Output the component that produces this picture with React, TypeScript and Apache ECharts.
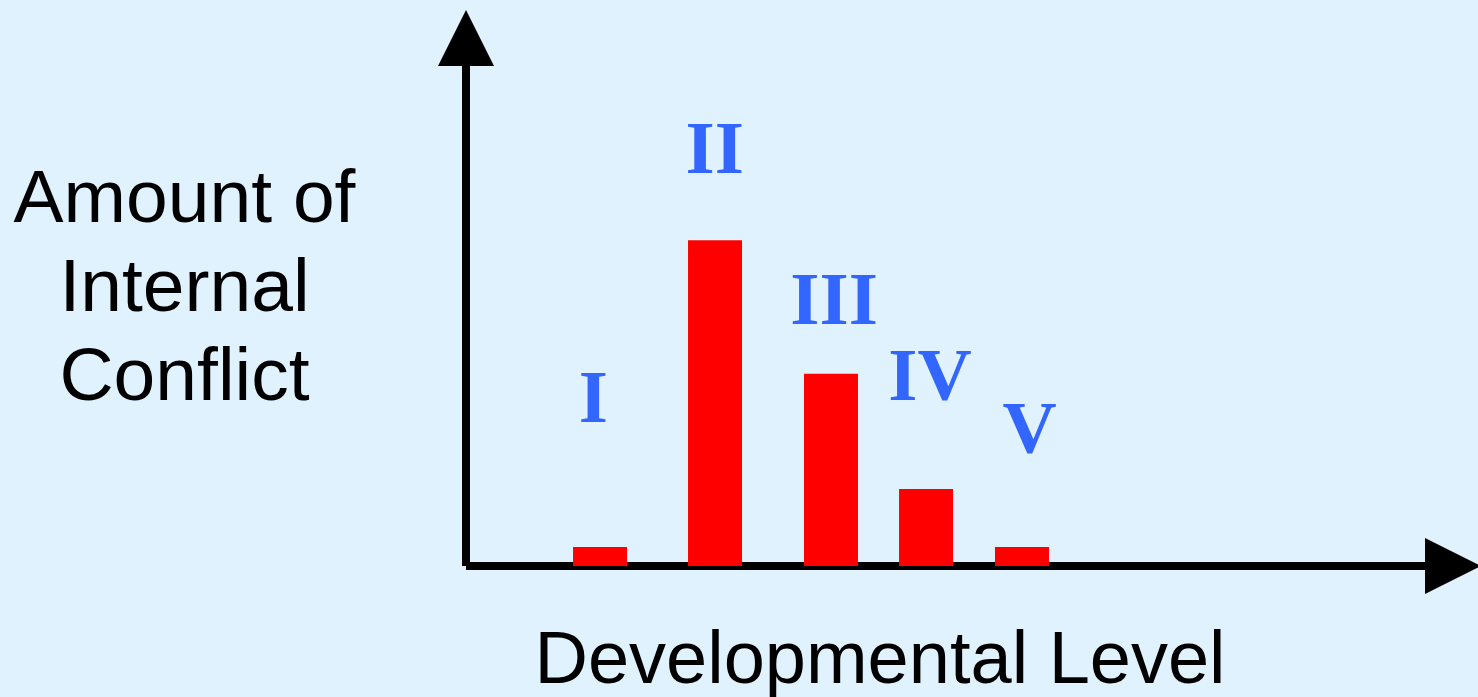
import React, { useEffect, useRef } from "react";
import * as echarts from "echarts";

// Developmental levels (roman numerals) and the amount of internal conflict at each
const levels = ["I", "II", "III", "IV", "V"];
const barPositions = [1.358, 2.523, 3.698, 4.661, 5.633];
const conflictAmounts = [3.6, 61.7, 36.4, 14.6, 3.6];
// Positions of the roman-numeral labels (same axes)
const labelPositions = [1.29, 2.52, 3.73, 4.7, 5.71];
const labelHeights = [32.1, 79.3, 50.6, 36.2, 26.2];
const yAxisTitle = ["Amount of", "Internal", "Conflict"];
const xAxisTitle = "Developmental Level";

export default function App() {
  const ref = useRef<HTMLDivElement>(null);

  useEffect(() => {
    document.body.style.margin = "0";
    document.body.style.background = "#E0F2FE";
    const chart = echarts.init(ref.current!, null, { renderer: "svg" });

    const axisLine = {
      show: true,
      onZero: true,
      symbol: ["none", "triangle"],
      symbolSize: [56, 56],
      lineStyle: { color: "#000000", width: 8, cap: "butt" },
    };

    chart.setOption({
      animation: false,
      backgroundColor: "#E0F2FE",
      grid: { left: 466, right: 25, top: 38, bottom: 131, containLabel: false },
      xAxis: {
        type: "value",
        min: 0,
        max: 10,
        axisLine,
        axisTick: { show: false },
        axisLabel: { show: false },
        splitLine: { show: false },
      },
      yAxis: {
        type: "value",
        min: 0,
        max: 100,
        axisLine,
        axisTick: { show: false },
        axisLabel: { show: false },
        splitLine: { show: false },
      },
      series: [
        {
          type: "bar",
          barWidth: 54,
          silent: true,
          itemStyle: { color: "#FF0000" },
          data: barPositions.map((x, i) => [x, conflictAmounts[i]]),
          z: 3,
        },
        {
          type: "scatter",
          silent: true,
          symbolSize: 1,
          itemStyle: { color: "rgba(0,0,0,0)", opacity: 1 },
          data: labelPositions.map((x, i) => ({ value: [x, labelHeights[i]], name: levels[i] })),
          label: {
            show: true,
            position: "inside",
            formatter: (p: any) => levels[p.dataIndex],
            fontFamily: "Liberation Serif",
            fontWeight: "bold",
            fontSize: 75,
            color: "#3366FF",
            opacity: 1,
          },
          z: 4,
        },
      ],
      graphic: [
        {
          type: "text",
          x: 184.5,
          y: 285,
          silent: true,
          style: {
            text: yAxisTitle.join("\n"),
            fontFamily: "Liberation Sans",
            fontSize: 75,
            lineHeight: 89,
            fill: "#000000",
            align: "center",
            verticalAlign: "middle",
            textAlign: "center",
            textVerticalAlign: "middle",
          },
        },
        {
          type: "text",
          x: 880,
          y: 657,
          silent: true,
          style: {
            text: xAxisTitle,
            fontFamily: "Liberation Sans",
            fontSize: 74,
            fill: "#000000",
            align: "center",
            verticalAlign: "middle",
            textAlign: "center",
            textVerticalAlign: "middle",
          },
        },
      ],
    });

    return () => chart.dispose();
  }, []);

  return (
    <div
      ref={ref}
      style={{ position: "fixed", left: 0, top: 0, width: 1478, height: 697 }}
    />
  );
}
